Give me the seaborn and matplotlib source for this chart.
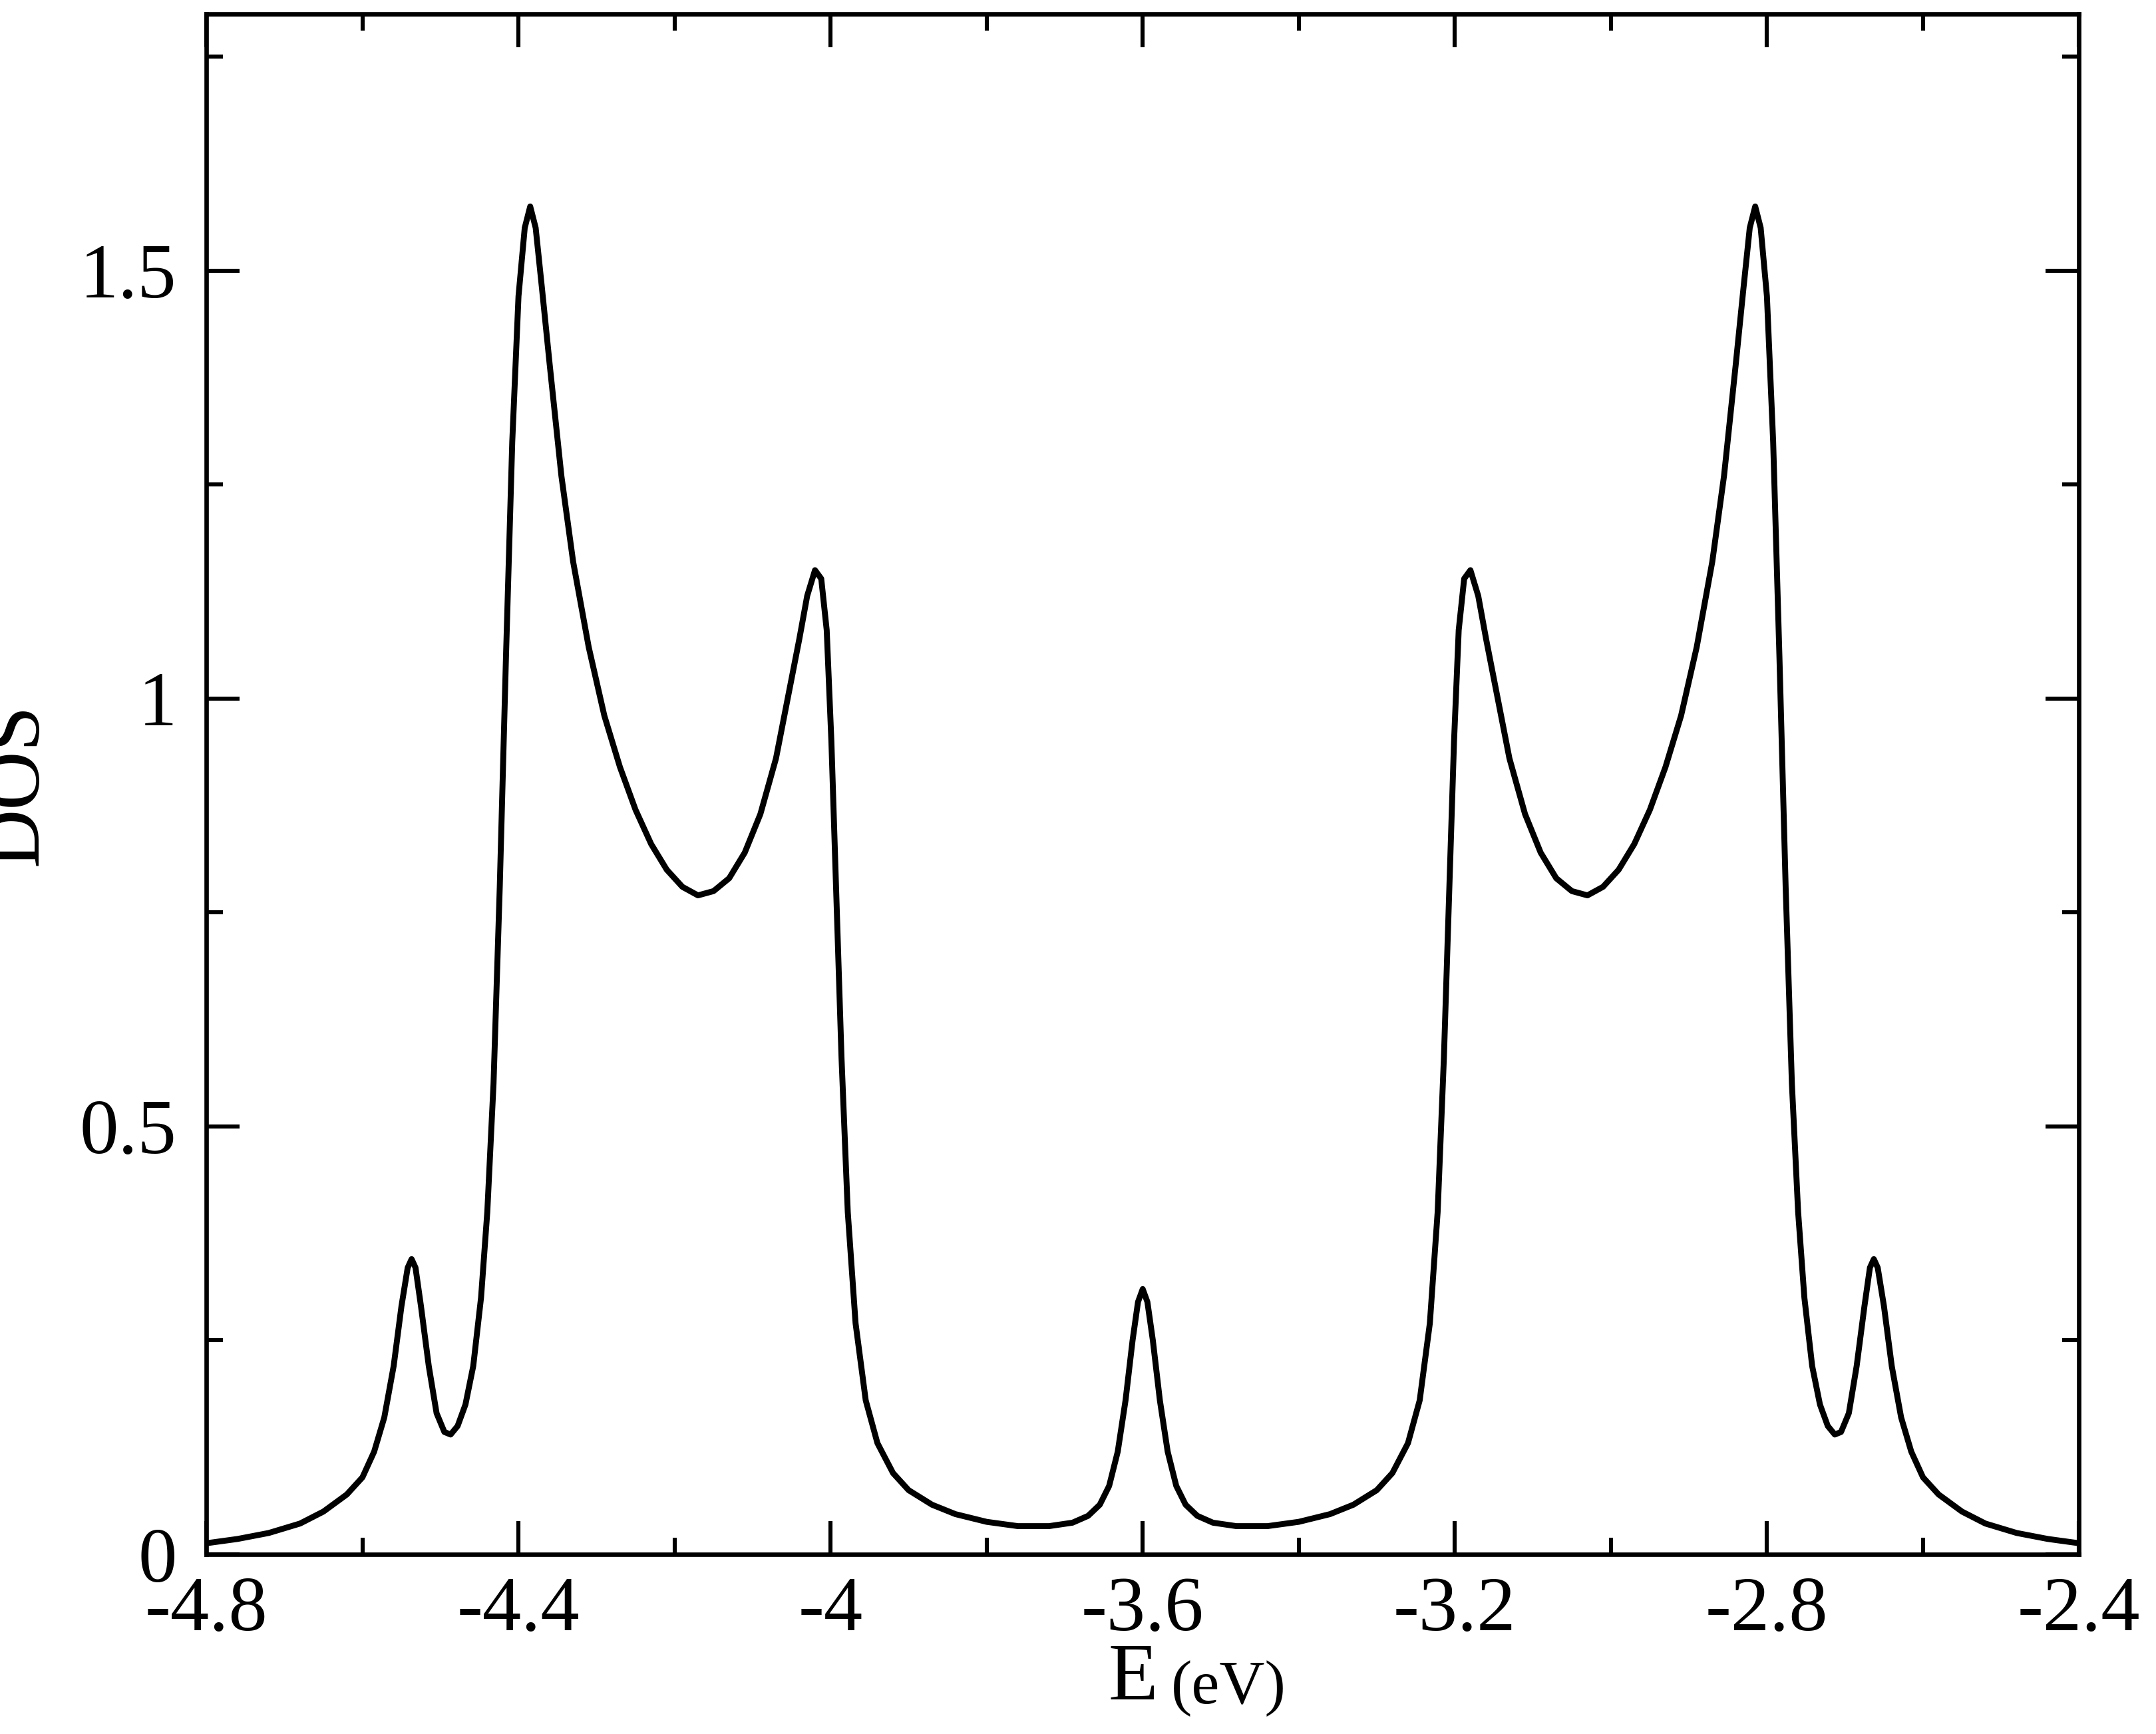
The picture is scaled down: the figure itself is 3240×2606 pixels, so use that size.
import pandas as pd
import matplotlib.pyplot as plt
import seaborn as sns
from matplotlib.ticker import MultipleLocator, FormatStrFormatter

sns.set_style("ticks")
plt.rcParams['font.family'] = ['Liberation Serif', 'DejaVu Serif']
plt.rcParams['text.color'] = 'black'
plt.rcParams['axes.labelcolor'] = 'black'
plt.rcParams['xtick.color'] = 'black'
plt.rcParams['ytick.color'] = 'black'
plt.rcParams['axes.edgecolor'] = 'black'

# Left half of the curve (E in eV, DOS); the curve is
# symmetric about E = -3.6, so the right half mirrors these readings
energy_left = [-4.80, -4.76, -4.72, -4.68, -4.65, -4.62, -4.60, -4.585, -4.572, -4.56,
               -4.55, -4.542, -4.537, -4.532, -4.525, -4.515, -4.505, -4.495, -4.487, -4.478,
               -4.468, -4.458, -4.448, -4.44, -4.432, -4.424, -4.416, -4.408, -4.400, -4.392,
               -4.385, -4.378, -4.37, -4.36, -4.345, -4.33, -4.31, -4.29, -4.27, -4.25,
               -4.23, -4.21, -4.19, -4.17, -4.15, -4.13, -4.11, -4.09, -4.07, -4.055,
               -4.04, -4.03, -4.02, -4.012, -4.005, -3.999, -3.993, -3.986, -3.978, -3.968,
               -3.955, -3.94, -3.92, -3.90, -3.87, -3.84, -3.80, -3.76, -3.72, -3.69,
               -3.67, -3.655, -3.643, -3.632, -3.622, -3.613, -3.606, -3.600]
dos_left = [0.013, 0.018, 0.025, 0.036, 0.050, 0.07, 0.09, 0.12, 0.16, 0.22,
            0.29, 0.335, 0.345, 0.335, 0.29, 0.22, 0.165, 0.143, 0.14, 0.15,
            0.175, 0.22, 0.30, 0.40, 0.55, 0.78, 1.05, 1.30, 1.47, 1.55,
            1.575, 1.55, 1.48, 1.39, 1.26, 1.16, 1.06, 0.98, 0.92, 0.87,
            0.83, 0.80, 0.78, 0.77, 0.775, 0.79, 0.82, 0.865, 0.93, 1.00,
            1.07, 1.12, 1.15, 1.14, 1.08, 0.95, 0.78, 0.58, 0.40, 0.27,
            0.18, 0.13, 0.095, 0.075, 0.058, 0.047, 0.038, 0.033, 0.033, 0.037,
            0.045, 0.058, 0.08, 0.12, 0.18, 0.25, 0.295, 0.31]

energy = energy_left + [-7.2 - e for e in reversed(energy_left[:-1])]
dos = dos_left + list(reversed(dos_left[:-1]))
df = pd.DataFrame({'E': energy, 'DOS': dos})

fig = plt.figure(figsize=(16.205, 13.03), dpi=200)
ax = fig.add_axes([0.0957, 0.1036, 0.8683, 0.8884])
sns.lineplot(data=df, x='E', y='DOS', sort=False, color='black', linewidth=3.2, ax=ax,
             solid_joinstyle='round')

ax.set_xlim(-4.8, -2.4)
ax.set_ylim(0, 1.8)
ax.xaxis.set_major_locator(MultipleLocator(0.4))
ax.xaxis.set_minor_locator(MultipleLocator(0.2))
ax.yaxis.set_major_locator(MultipleLocator(0.5))
ax.yaxis.set_minor_locator(MultipleLocator(0.25))
ax.xaxis.set_major_formatter(FormatStrFormatter('%g'))
ax.yaxis.set_major_formatter(FormatStrFormatter('%g'))
ax.tick_params(which='both', direction='in', top=True, right=True, width=2.2, labelsize=42)
ax.tick_params(which='major', length=18)
ax.tick_params(axis='x', which='major', pad=12)
ax.tick_params(axis='y', which='major', pad=16)
ax.tick_params(which='minor', length=9)
for s in ax.spines.values():
    s.set_linewidth(2.4)

ax.set_xlabel('')
fig.text(0.537, 0.010, 'E', fontsize=44, ha='right', va='bottom')
fig.text(0.543, 0.010, '(eV)', fontsize=34, ha='left', va='bottom')
ax.set_ylabel('DOS', fontsize=44, labelpad=14)

plt.savefig('out.png', dpi=200)
